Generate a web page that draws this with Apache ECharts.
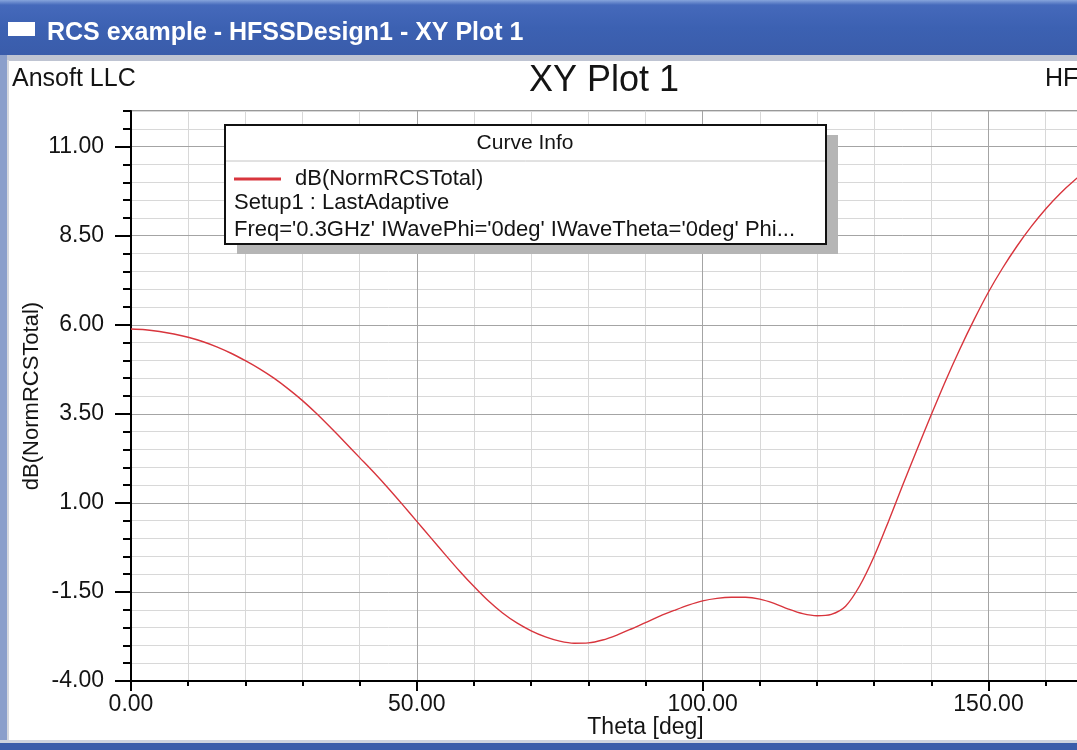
<!DOCTYPE html>
<html>
<head>
<meta charset="utf-8">
<script src="https://cdn.jsdelivr.net/npm/echarts@6/dist/echarts.min.js"></script>
<style>
html,body{margin:0;padding:0;overflow:hidden;background:#ffffff;width:1077px;height:750px}
#c{width:1220px;height:750px}
</style>
</head>
<body>
<div id="c"></div>
<script>
// ---- texts ----
const windowTitle = 'RCS example - HFSSDesign1 - XY Plot 1';
const plotTitle = 'XY Plot 1';
const companyText = 'Ansoft LLC';
const designText = 'HFSSDesign1';
const seriesName = 'dB(NormRCSTotal)';
const curveInfoTitle = 'Curve Info';
const curveInfoLines = ['Setup1 : LastAdaptive', "Freq='0.3GHz' IWavePhi='0deg' IWaveTheta='0deg' Phi..."];
const xAxisName = 'Theta [deg]';
const yAxisName = 'dB(NormRCSTotal)';

// ---- ticks ----
const xTickValues = [0, 50, 100, 150];
const yTickValues = [-4, -1.5, 1, 3.5, 6, 8.5, 11];

// ---- data ----
const theta = [0, 2.5, 5, 7.5, 10, 12.5, 15, 17.5, 20, 22.5, 25, 27.5, 30, 32.5, 35, 37.5, 40, 42.5, 45, 47.5,
  50, 52.5, 55, 57.5, 60, 62.5, 65, 67.5, 70, 72.5, 75, 77.5, 80, 82.5, 85, 87.5, 90, 92.5, 95, 97.5,
  100, 102.5, 105, 107.5, 110, 112.5, 115, 117.5, 120, 122.5, 125, 127.5, 130, 132.5, 135, 137.5, 140, 142.5, 145, 147.5,
  150, 152.5, 155, 157.5, 160, 162.5, 165, 167.5];
const dbNormRCSTotal = [5.88, 5.86, 5.81, 5.74, 5.65, 5.53, 5.38, 5.20, 4.99, 4.76, 4.50, 4.20, 3.87, 3.50, 3.10, 2.69, 2.27, 1.85, 1.41, 0.95,
  0.48, 0.01, -0.46, -0.92, -1.35, -1.75, -2.09, -2.37, -2.59, -2.76, -2.88, -2.94, -2.93, -2.85, -2.71, -2.54, -2.36, -2.18, -2.02, -1.87,
  -1.75, -1.68, -1.65, -1.65, -1.70, -1.82, -1.98, -2.11, -2.17, -2.13, -1.90, -1.32, -0.50, 0.48, 1.50, 2.50, 3.48, 4.43, 5.32, 6.15,
  6.92, 7.60, 8.21, 8.76, 9.25, 9.68, 10.05, 10.37];

const FONT = '"Liberation Sans", Arial, Helvetica, sans-serif';
const TXT = '#141414';

function txt(x, y, text, size, opts) {
  opts = opts || {};
  return {
    type: 'text', z: opts.z || 5, silent: true,
    style: {
      x: x, y: y, text: text, fill: opts.fill || TXT,
      fontSize: size, fontFamily: FONT, fontWeight: opts.bold ? 'bold' : 'normal',
      align: opts.align || 'left', verticalAlign: 'middle',
      textAlign: opts.align || 'left', textVerticalAlign: 'middle'
    }
  };
}

const chart = echarts.init(document.getElementById('c'), null, { renderer: 'canvas' });

const option = {
  animation: false,
  backgroundColor: '#ffffff',
  textStyle: { fontFamily: FONT },
  grid: {
    left: 131, top: 111, right: 60, bottom: 69,
    show: true, borderColor: '#333333', borderWidth: 1, backgroundColor: '#ffffff'
  },
  legend: {
    show: true, left: 234, top: 168, padding: 0, icon: 'rect',
    itemWidth: 47, itemHeight: 3, selectedMode: false, z: 10,
    data: [seriesName],
    textStyle: { fontSize: 22, color: TXT, fontFamily: FONT, padding: [0, 0, 0, 9] }
  },
  xAxis: [
    {
      type: 'value', min: 0, max: 180, interval: 50, position: 'bottom', z: 1,
      axisLine: { show: true, onZero: false, lineStyle: { color: '#000000', width: 2 } },
      axisTick: { show: true, customValues: xTickValues, length: 10, lineStyle: { color: '#000000', width: 2 } },
      axisLabel: { customValues: xTickValues, formatter: v => Number(v).toFixed(2), fontSize: 23, color: TXT, margin: 12, fontFamily: FONT },
      splitLine: { show: true, lineStyle: { color: '#a4a4a4', width: 1 } },
      name: xAxisName, nameLocation: 'middle', nameGap: 35, nameMoveOverlap: false,
      nameTextStyle: { fontSize: 23, color: TXT, fontFamily: FONT }
    },
    {
      type: 'value', min: 0, max: 180, interval: 10, position: 'bottom', z: 0,
      axisLine: { show: false, onZero: false },
      axisTick: { show: true, length: 5, lineStyle: { color: '#000000', width: 2 } },
      axisLabel: { show: false },
      splitLine: { show: true, lineStyle: { color: '#d8d8d8', width: 1 } }
    }
  ],
  yAxis: [
    {
      type: 'value', min: -4, max: 12, interval: 2.5, position: 'left', z: 1,
      axisLine: { show: true, onZero: false, lineStyle: { color: '#000000', width: 2 } },
      axisTick: { show: true, customValues: yTickValues, length: 16, lineStyle: { color: '#000000', width: 2 } },
      axisLabel: { customValues: yTickValues, formatter: v => Number(v).toFixed(2), fontSize: 23, color: TXT, margin: 27, fontFamily: FONT },
      splitLine: { show: true, lineStyle: { color: '#a4a4a4', width: 1 } },
      name: yAxisName, nameLocation: 'middle', nameGap: 88, nameRotate: 90, nameMoveOverlap: false,
      nameTextStyle: { fontSize: 22, color: TXT, fontFamily: FONT }
    },
    {
      type: 'value', min: -4, max: 12, interval: 0.5, position: 'left', z: 0,
      axisLine: { show: false, onZero: false },
      axisTick: { show: true, length: 8, lineStyle: { color: '#000000', width: 2 } },
      axisLabel: { show: false },
      splitLine: { show: true, lineStyle: { color: '#d8d8d8', width: 1 } }
    }
  ],
  series: [
    {
      name: seriesName, type: 'line', xAxisIndex: 0, yAxisIndex: 0,
      data: theta.map((t, i) => [t, dbNormRCSTotal[i]]),
      showSymbol: false, smooth: 0.3, clip: true,
      lineStyle: { color: '#d8353d', width: 1.4 },
      itemStyle: { color: '#d8353d' },
      z: 3
    }
  ],
  graphic: {
    elements: [
      // window title bar
      { type: 'rect', silent: true, z: 1, shape: { x: 0, y: 0, width: 1220, height: 56 },
        style: { fill: new echarts.graphic.LinearGradient(0, 0, 0, 1, [
          { offset: 0, color: '#86a4dc' }, { offset: 0.09, color: '#4569bb' },
          { offset: 0.5, color: '#3c61b2' }, { offset: 1, color: '#3a5caa' }]) } },
      { type: 'rect', silent: true, z: 1, shape: { x: 0, y: 55, width: 1220, height: 6 }, style: { fill: '#bfc4d2' } },
      // left frame
      { type: 'rect', silent: true, z: 1, shape: { x: 0, y: 55, width: 7, height: 695 }, style: { fill: '#8b9fcb' } },
      { type: 'rect', silent: true, z: 1, shape: { x: 7, y: 60, width: 2, height: 682 }, style: { fill: '#d6d8de' } },
      // bottom frame
      { type: 'rect', silent: true, z: 1, shape: { x: 0, y: 740, width: 1220, height: 3 }, style: { fill: '#cdd2de' } },
      { type: 'rect', silent: true, z: 1, shape: { x: 0, y: 743, width: 1220, height: 7 }, style: { fill: '#3a5caa' } },
      // window icon
      { type: 'rect', silent: true, z: 2, shape: { x: 8, y: 22, width: 27, height: 14 }, style: { fill: '#ffffff' } },
      txt(47, 33, windowTitle, 25, { fill: '#ffffff', bold: true }),
      // plot header texts
      txt(12, 79, companyText, 25),
      txt(604, 81, plotTitle, 36, { align: 'center' }),
      txt(1045, 79, designText, 25),
      // curve info box
      { type: 'rect', silent: true, z: 3, shape: { x: 237, y: 135, width: 601, height: 119 }, style: { fill: '#b5b5b5' } },
      { type: 'rect', silent: true, z: 3, shape: { x: 225, y: 125, width: 601, height: 119 }, style: { fill: '#ffffff', stroke: '#111111', lineWidth: 2 } },
      { type: 'line', silent: true, z: 3, shape: { x1: 226, y1: 161, x2: 825, y2: 161 }, style: { stroke: '#c4c4c4', lineWidth: 1 } },
      txt(525, 143, curveInfoTitle, 21, { align: 'center' }),
      txt(234, 203, curveInfoLines[0], 22),
      txt(234, 230, curveInfoLines[1], 22)
    ]
  }
};

chart.setOption(option);
</script>
</body>
</html>
